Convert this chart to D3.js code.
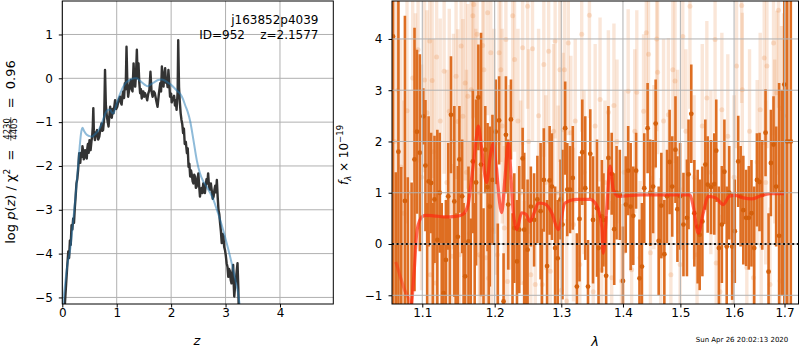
<!DOCTYPE html>
<html>
<head>
<meta charset="utf-8">
<script src="https://cdn.jsdelivr.net/npm/d3@7"></script>
<style>
body { margin: 0; background: #fff; }
svg { font-family: "DejaVu Sans", sans-serif; }
</style>
</head>
<body>
<svg id="fig" width="800" height="350"></svg>
<script>
// ---- left panel: log p(z) ----
const pzData = [
  [0.04,-5.4],[0.05,-5.1],[0.07,-4.7],[0.09,-4.3],[0.11,-3.95],[0.125,-4.1],[0.14,-3.7],[0.155,-3.8],
  [0.17,-3.35],[0.185,-3.45],[0.20,-3.2],[0.215,-3.3],[0.23,-2.96],[0.245,-2.7],[0.26,-2.4],[0.275,-2.3],
  [0.29,-2.1],[0.30,-1.9],[0.31,-1.71],[0.32,-1.85],[0.33,-1.93],[0.345,-1.7],[0.36,-1.79],[0.37,-1.55],
  [0.38,-1.63],[0.395,-1.85],[0.41,-1.8],[0.42,-1.64],[0.435,-1.72],[0.45,-1.83],[0.46,-1.6],[0.47,-1.5],
  [0.485,-1.7],[0.50,-1.41],[0.51,-1.55],[0.52,-1.64],[0.535,-1.45],[0.55,-1.3],[0.56,-1.1],[0.57,-0.68],
  [0.58,-1.2],[0.60,-1.41],[0.62,-1.25],[0.64,-1.18],[0.66,-1.4],[0.68,-1.33],[0.70,-1.15],[0.72,-1.03],
  [0.735,-1.2],[0.75,-1.18],[0.77,-0.9],[0.785,0.19],[0.80,-0.6],[0.82,-0.88],[0.835,-1.0],[0.85,-1.10],
  [0.865,-0.85],[0.88,-0.65],[0.895,-0.85],[0.91,-0.9],[0.925,-0.7],[0.94,-0.80],[0.955,-0.65],[0.97,-0.50],
  [0.99,-0.7],[1.01,-0.65],[1.035,-0.5],[1.06,-0.42],[1.075,-0.55],[1.09,-0.6],[1.105,-0.4],[1.12,-0.3],
  [1.135,-0.45],[1.15,-0.11],[1.165,-0.25],[1.18,0.72],[1.195,-0.1],[1.21,-0.42],[1.235,-0.2],[1.26,-0.04],
  [1.275,-0.25],[1.29,-0.3],[1.31,0.34],[1.325,-0.1],[1.34,-0.19],[1.355,0.1],[1.37,0.65],[1.385,0.0],
  [1.40,0.34],[1.415,-0.1],[1.43,-0.34],[1.445,-0.25],[1.46,-0.46],[1.475,-0.3],[1.49,-0.3],[1.505,-0.42],
  [1.52,-0.34],[1.54,-0.4],[1.56,-0.5],[1.58,-0.35],[1.60,-0.27],[1.62,0.15],[1.64,-0.3],[1.66,-0.42],
  [1.68,-0.3],[1.70,-0.34],[1.725,-0.5],[1.75,-0.65],[1.775,-0.35],[1.80,-0.11],[1.815,-0.3],[1.83,0.27],
  [1.845,-0.05],[1.86,-0.19],[1.875,0.1],[1.89,0.23],[1.905,-0.1],[1.92,-0.04],[1.935,-0.2],[1.95,0.19],
  [1.965,-0.1],[1.98,-0.42],[2.0,-0.35],[2.01,-0.55],[2.025,-0.45],[2.04,-0.5],[2.055,-0.4],[2.07,-0.62],
  [2.085,-0.5],[2.10,-0.72],[2.12,-0.3],[2.13,0.87],[2.145,-0.2],[2.16,-0.55],[2.175,-0.8],[2.19,-0.95],
  [2.205,-1.05],[2.22,-1.25],[2.235,-1.15],[2.25,-1.5],[2.27,-1.45],[2.29,-1.71],[2.305,-1.6],[2.32,-2.02],
  [2.335,-1.95],[2.35,-2.24],[2.365,-2.1],[2.38,-2.2],[2.395,-2.35],[2.41,-2.40],[2.425,-2.2],[2.44,-2.25],
  [2.455,-2.5],[2.47,-2.47],[2.485,-2.3],[2.50,-2.17],[2.515,-2.45],[2.53,-2.70],[2.545,-2.55],[2.56,-2.5],
  [2.575,-2.62],[2.59,-2.40],[2.605,-2.5],[2.62,-2.62],[2.635,-2.45],[2.65,-2.3],[2.665,-2.4],[2.68,-2.17],
  [2.695,-2.45],[2.71,-2.54],[2.73,-2.4],[2.75,-2.6],[2.765,-2.75],[2.78,-2.70],[2.795,-2.55],[2.81,-2.45],
  [2.825,-2.6],[2.84,-2.32],[2.855,-2.7],[2.87,-3.0],[2.885,-3.1],[2.90,-3.31],[2.915,-3.5],[2.93,-3.76],
  [2.945,-3.55],[2.96,-3.6],[2.975,-3.85],[2.99,-3.92],[3.005,-4.05],[3.02,-4.22],[3.035,-4.3],[3.05,-4.53],
  [3.065,-4.35],[3.08,-4.4],[3.095,-4.6],[3.11,-4.68],[3.125,-4.45],[3.14,-4.26],[3.15,-4.7],[3.16,-4.98],
  [3.175,-4.75],[3.19,-4.6],[3.205,-4.4],[3.22,-4.22],[3.235,-4.8],[3.24,-5.15],[3.25,-5.4]
];
const pzFit = [
  [0.0,-5.5],[0.02,-5.1],[0.06,-4.6],[0.10,-4.2],[0.14,-3.95],[0.18,-3.5],[0.22,-3.0],[0.26,-2.45],
  [0.29,-2.0],[0.32,-1.55],[0.345,-1.25],[0.37,-1.13],[0.40,-1.2],[0.45,-1.29],[0.50,-1.32],[0.54,-1.33],
  [0.58,-1.3],[0.63,-1.24],[0.68,-1.15],[0.72,-1.05],[0.76,-0.9],[0.80,-0.78],[0.84,-0.72],[0.88,-0.72],
  [0.91,-0.78],[0.94,-0.80],[0.98,-0.66],[1.03,-0.46],[1.08,-0.3],[1.12,-0.19],[1.17,-0.1],[1.21,-0.06],
  [1.27,-0.02],[1.33,0.0],[1.37,0.0],[1.42,-0.05],[1.47,-0.1],[1.52,-0.15],[1.56,-0.18],[1.60,-0.16],
  [1.65,-0.12],[1.70,-0.08],[1.76,-0.04],[1.82,-0.03],[1.88,-0.05],[1.94,-0.1],[2.00,-0.15],[2.06,-0.22],
  [2.12,-0.3],[2.17,-0.36],[2.22,-0.48],[2.26,-0.62],[2.30,-0.75],[2.35,-0.98],[2.41,-1.41],[2.47,-1.86],
  [2.53,-2.17],[2.59,-2.35],[2.65,-2.47],[2.72,-2.62],[2.78,-2.78],[2.84,-3.0],[2.90,-3.23],[2.96,-3.48],
  [3.02,-3.76],[3.08,-4.05],[3.14,-4.37],[3.19,-4.65],[3.24,-4.98],[3.27,-5.3]
];
const zTicks = [0, 1, 2, 3, 4];
const pzTicks = [-5, -4, -3, -2, -1, 0, 1];

// ---- right panel: spectrum [lambda, flux, err] ----
const specPts = [
  [1.0620,4.05,5.4],[1.0655,-1.6,3.0],[1.0689,1.8,3.6],[1.0725,-2.0,3.5],[1.0773,0.84,3.61],[1.0810,-1.5,2.8],
  [1.0860,-2.0,3.2],[1.0898,1.65,2.57],[1.0930,2.19,1.6],[1.0968,1.78,1.92],[1.1014,2.49,0.55],[1.1042,1.53,1.28],
  [1.1065,-1.8,2.6],[1.1084,1.22,1.27],[1.1117,1.19,0.98],[1.1140,-2.2,3.0],[1.1163,0.87,1.24],[1.1201,0.08,2.15],
  [1.1233,1.0,1.17],[1.1260,-1.6,2.4],[1.1285,-0.96,1.5],[1.1317,-0.31,1.17],[1.1349,0.93,1.04],[1.1370,-2.5,3.0],
  [1.1386,2.52,1.14],[1.1432,0.83,1.86],[1.1450,-1.9,2.5],[1.1480,0.14,1.38],[1.1502,1.65,1.04],[1.1540,0.93,1.11],
  [1.1560,-2.0,2.8],[1.1582,-0.63,1.24],[1.1628,0.05,1.46],[1.1660,-1.7,2.2],[1.1689,1.61,1.4],[1.1715,-1.8,2.6],
  [1.1735,1.2,1.62],[1.1767,2.86,1.03],[1.1805,1.55,2.57],[1.1840,-2.1,2.8],[1.1865,1.84,0.85],[1.1898,1.11,1.25],
  [1.1915,-1.5,2.3],[1.1930,0.73,1.56],[1.1968,1.25,1.27],[1.2015,2.19,1.02],[1.2045,-1.6,2.0],[1.2064,2.41,0.86],
  [1.2129,-1.12,0.94],[1.2163,2.13,1.14],[1.2197,0.77,1.27],[1.2237,2.43,0.78],[1.2260,-1.8,2.4],[1.2286,0.31,1.07],
  [1.2326,-0.34,1.2],[1.2360,0.28,1.24],[1.2410,1.67,0.6],[1.2434,0.28,1.5],[1.2460,-1.5,2.0],[1.2484,-0.11,1.37],
  [1.2533,0.73,0.78],[1.2582,0.47,0.91],[1.2632,0.87,0.85],[1.2681,0.64,1.33],[1.2700,-1.7,2.0],[1.2730,1.25,1.01],
  [1.2780,-0.43,1.29],[1.2819,1.24,1.06],[1.2855,1.12,1.04],[1.2904,-0.08,1.2],[1.2944,-0.28,1.14],[1.2988,0.87,0.78],
  [1.3019,0.38,1.46],[1.3061,2.26,0.91],[1.3094,1.06,0.91],[1.3138,1.06,0.85],[1.3181,1.29,1.01],[1.3246,-0.83,1.04],
  [1.3288,0.49,1.22],[1.3332,1.79,1.03],[1.3380,1.09,1.4],[1.3424,-0.83,0.91],[1.3461,1.76,0.87],[1.3505,0.47,1.24],
  [1.3570,0.70,1.34],[1.3595,-0.08,1.2],[1.3650,0.54,1.1],[1.3676,0.47,0.91],[1.3720,-0.62,1.16],[1.3757,1.68,1.01],
  [1.3812,1.37,0.8],[1.3854,0.29,1.09],[1.3893,1.0,0.91],[1.3947,0.96,0.88],[1.4000,-0.72,1.06],[1.4047,0.77,0.94],
  [1.4088,1.43,0.87],[1.4130,0.73,1.24],[1.4175,0.55,0.96],[1.4223,1.43,0.74],[1.4281,-0.67,1.15],[1.4323,-0.44,1.24],
  [1.4363,1.09,1.07],[1.4421,2.26,0.88],[1.4468,1.0,1.04],[1.4516,1.12,0.91],[1.4561,2.35,0.86],[1.4614,0.06,1.06],
  [1.4661,0.75,1.03],[1.4714,-0.2,1.06],[1.4761,0.93,0.91],[1.4807,1.6,1.02],[1.4854,1.12,0.98],[1.4912,1.84,1.04],
  [1.4947,0.68,1.03],[1.4995,0.93,1.04],[1.5056,0.38,1.01],[1.5119,0.51,1.14],[1.5148,1.36,1.07],[1.5198,2.54,0.96],
  [1.5254,0.6,1.04],[1.5315,0.34,1.11],[1.5352,0.18,1.08],[1.5402,0.44,1.07],[1.5457,1.55,0.88],[1.5500,1.16,0.94],
  [1.5563,1.11,0.92],[1.5624,1.17,0.99],[1.5661,1.82,1.0],[1.5711,-0.08,1.2],[1.5767,0.38,1.14],[1.5815,1.41,1.02],
  [1.5859,-0.05,1.17],[1.5907,1.0,0.91],[1.5963,-0.05,1.04],[1.6014,0.25,1.01],[1.6080,1.61,0.89],[1.6127,0.93,0.98],
  [1.6179,0.66,1.06],[1.6233,0.51,0.94],[1.6286,0.51,1.01],[1.6338,0.6,1.04],[1.6392,-0.08,1.2],[1.6446,1.25,0.91],
  [1.6497,1.21,0.96],[1.6551,0.96,1.07],[1.6617,2.17,0.85],[1.6677,-0.54,1.14],[1.6724,1.58,1.04],[1.6777,1.94,0.94],
  [1.6830,1.12,1.17],[1.6890,0.16,2.98],[1.6944,1.0,2.0],[1.6996,3.11,5.0],[1.7056,2.0,5.0],[1.7129,2.0,5.0]
];
const specPtsFaint = [
  [1.0640,2.0,3.0],[1.0759,0.60,2.2],[1.0874,3.24,2.0],[1.0944,3.79,2.2],[1.1061,2.56,2.0],[1.1098,3.96,2.2],
  [1.1107,-0.60,1.8],[1.1131,3.19,1.9],[1.1177,-0.76,1.8],[1.1191,3.65,2.0],[1.1293,3.37,2.0],[1.1363,2.59,2.0],
  [1.1400,-0.24,1.8],[1.1456,3.27,2.0],[1.1480,2.39,1.8],[1.1502,-0.21,1.7],[1.1526,3.86,2.0],[1.1550,2.49,1.9],
  [1.1582,3.14,1.9],[1.1619,2.88,1.8],[1.1642,0.21,1.8],[1.1665,3.01,1.8],[1.1689,4.45,2.0],[1.1703,4.67,2.2],
  [1.1749,4.09,2.0],[1.1781,-0.21,1.7],[1.1805,-0.24,1.6],[1.1828,3.87,1.9],[1.1845,3.40,1.8],[1.1875,-0.27,1.7],
  [1.1898,4.51,2.0],[1.1910,-0.67,1.7],[1.1944,3.73,1.8],[1.1960,0.28,1.6],[1.2040,-0.21,1.7],[1.2064,3.73,1.8],
  [1.2089,3.40,1.8],[1.2139,0.31,1.6],[1.2163,3.99,1.8],[1.2188,-0.73,1.6],[1.2262,4.45,2.0],[1.2290,3.6,1.8],
  [1.2410,3.83,1.9],[1.2434,-0.76,1.6],[1.2484,4.64,2.0],[1.2533,-0.60,1.6],[1.2558,3.81,1.8],[1.2600,-0.79,1.6],
  [1.2705,-0.79,1.6],[1.2730,3.50,1.8],[1.2804,3.76,1.8],[1.2829,-0.53,1.6],[1.2904,3.96,1.9],[1.2978,3.40,1.8],
  [1.3000,-0.90,1.6],[1.3029,2.23,1.5],[1.3050,3.40,1.7],[1.3084,-1.11,1.6],[1.3110,3.92,1.8],[1.3150,2.17,1.5],
  [1.3191,0.38,1.5],[1.3292,-0.40,1.5],[1.3323,4.09,1.9],[1.3447,4.46,2.0],[1.3508,-0.93,1.5],[1.3620,2.82,1.6],
  [1.3647,-0.50,1.5],[1.3757,2.57,1.6],[1.3812,-0.66,1.5],[1.3849,2.70,1.6],[1.3975,-0.72,1.5],[1.4088,2.98,1.6],
  [1.4147,-0.50,1.5],[1.4235,2.96,1.6],[1.4291,-0.27,1.5],[1.4351,2.59,1.5],[1.4398,4.12,1.8],[1.4437,3.70,1.7],
  [1.4470,-0.17,1.5],[1.4579,4.00,1.8],[1.4595,3.35,1.6],[1.4649,-0.21,1.5],[1.4785,2.52,1.5],[1.4830,-0.60,1.5],
  [1.4865,3.40,1.6],[1.4904,3.18,1.6],[1.4995,-0.40,1.5],[1.5044,4.05,1.8],[1.5174,4.64,2.0],[1.5304,-0.21,1.5],
  [1.5485,2.85,1.5],[1.5639,3.99,1.8],[1.5660,-0.37,1.5],[1.5734,-0.93,1.5],[1.5767,2.62,1.5],[1.5982,-0.53,1.5],
  [1.6048,3.47,1.6],[1.6147,4.65,1.9],[1.6159,3.01,1.5],[1.6247,-0.46,1.5],[1.6377,-0.66,1.5],[1.6510,2.62,1.5],
  [1.6530,-0.03,1.4],[1.6590,3.63,1.7],[1.6644,3.47,1.6],[1.6706,-0.79,1.5],[1.6777,3.92,1.8],[1.6843,2.95,1.6],
  [1.6877,4.56,1.9],[1.6908,-0.72,1.5],[1.6937,2.65,1.6],
  // faint points whose markers sit behind the solid bars
  [1.0680,3.0,2.0],[1.0720,1.5,2.5],[1.0800,2.6,2.2],[1.0830,1.0,2.0],[1.0910,2.2,2.3],[1.0990,1.3,2.2],
  [1.1030,3.2,1.8],[1.1150,1.8,2.2],[1.1240,2.4,2.0],[1.1330,1.2,2.2],[1.1420,2.0,2.1],[1.1600,1.4,2.0],
  [1.1730,2.0,2.2],[1.1790,1.0,2.0],[1.1990,2.2,2.0],[1.2020,1.2,1.8],[1.2110,2.3,1.9],[1.2220,1.3,1.8],
  [1.2340,2.4,1.8],[1.2380,1.0,1.8],[1.2500,2.0,1.8],[1.2650,2.5,1.7],[1.2760,1.2,1.7],[1.2880,2.2,1.7],
  [1.2950,1.0,1.7],[1.3220,2.4,1.6],[1.3360,1.4,1.6],[1.3540,2.3,1.6],[1.3700,1.2,1.6],[1.3900,2.0,1.6],
  [1.4020,1.4,1.6],[1.4200,2.2,1.6],[1.4530,1.5,1.6],[1.4700,2.4,1.6],[1.4950,1.8,1.6],[1.5100,2.2,1.6],
  [1.5250,1.3,1.6],[1.5400,2.3,1.6],[1.5560,1.4,1.6],[1.5880,2.1,1.6],[1.6000,1.3,1.6],[1.6300,2.2,1.6],
  [1.6450,1.6,1.6],[1.6620,1.2,1.6],[1.6800,2.0,1.6],[1.6980,2.5,2.0]
];
const modelMain = [
  [1.0850,-1.4],[1.0895,-0.5],[1.0926,0.2],[1.0947,0.38],[1.0980,0.5],[1.1040,0.56],[1.1150,0.55],[1.1300,0.53],
  [1.1450,0.54],[1.1550,0.58],[1.1620,0.75],[1.1665,1.2],[1.1725,1.9],[1.1766,2.3],[1.1810,1.9],[1.1885,1.2],
  [1.1935,1.7],[1.1980,1.96],[1.2015,1.6],[1.2101,0.61],[1.2150,1.3],[1.2198,1.97],[1.2272,0.61],[1.2322,0.28],
  [1.2396,0.61],[1.2460,0.58],[1.2520,0.44],[1.2580,0.6],[1.2646,0.80],[1.2749,0.78],[1.2851,0.61],[1.2954,0.28],
  [1.3058,0.80],[1.3242,0.87],[1.3457,0.87],[1.3565,0.75],[1.3647,0.34],[1.3673,-0.18],[1.3729,0.67],[1.3784,1.52],
  [1.3839,1.06],[1.3922,0.93],[1.4291,0.96],[1.4873,0.96],[1.5174,0.96],[1.5235,0.73],[1.5327,0.21],[1.5419,0.61],
  [1.5513,0.93],[1.5650,0.9],[1.5795,0.77],[1.5907,0.93],[1.6014,0.95],[1.6179,0.9],[1.6344,0.88],[1.6497,0.93],
  [1.6706,0.98],[1.7010,0.98]
];
const modelEdge = [[1.0655,-0.35],[1.0667,-0.40],[1.0709,-0.62],[1.0770,-0.9],[1.0839,-1.15],[1.0870,-1.4]];
const lamTicks = [1.1, 1.2, 1.3, 1.4, 1.5, 1.6, 1.7];
const fluxTicks = [-1, 0, 1, 2, 3, 4];

const svg = d3.select('#fig');
const L = {x0: 62.3, x1: 333.3, y0: 1, y1: 304};
const R = {x0: 392, x1: 798.5, y0: 1, y1: 304};

const xz = d3.scaleLinear().domain([0, 4.98]).range([L.x0, L.x1]);
const yp = d3.scaleLinear().domain([-5.15, 1.764]).range([L.y1, L.y0]);
const xl = d3.scaleLog().domain([1.0607, 1.7288]).range([R.x0, R.x1]);
const yf = d3.scaleLinear().domain([-1.17, 4.74]).range([R.y1, R.y0]);

const defs = svg.append('defs');
[['clipL', L], ['clipR', R]].forEach(([id, b]) => {
  defs.append('clipPath').attr('id', id).append('rect')
    .attr('x', b.x0).attr('y', b.y0).attr('width', b.x1 - b.x0).attr('height', b.y1 - b.y0);
});

function drawGrid(xs, ys, xt, yt, b){
  let g = svg.append('g').attr('stroke', '#b0b0b0').attr('stroke-width', 1);
  g.selectAll('.gx').data(xt).enter().append('line')
    .attr('x1', d => xs(d)).attr('x2', d => xs(d)).attr('y1', b.y0).attr('y2', b.y1);
  g.selectAll('.gy').data(yt).enter().append('line')
    .attr('y1', d => ys(d)).attr('y2', d => ys(d)).attr('x1', b.x0).attr('x2', b.x1);
}

function styleAxis(g){
  g.select('.domain').remove();
  g.selectAll('.tick line').attr('stroke', '#000').attr('stroke-width', 1);
  g.selectAll('.tick text').attr('fill', '#000');
  g.attr('font-size', 12).attr('font-family', '"DejaVu Sans", sans-serif');
}

// ---- left panel ----
drawGrid(xz, yp, zTicks, pzTicks, L);

let gL = svg.append('g').attr('clip-path', 'url(#clipL)');
let pzLine = d3.line().x(d => xz(d[0])).y(d => yp(d[1]));
gL.append('path').datum(pzData).attr('d', pzLine)
  .attr('fill', 'none').attr('stroke', '#333').attr('stroke-width', 2.4).attr('stroke-linejoin', 'round');
gL.append('path').datum(pzFit).attr('d', pzLine.curve(d3.curveMonotoneX))
  .attr('fill', 'none').attr('stroke', '#1f77b4').attr('stroke-opacity', 0.5).attr('stroke-width', 2);

svg.append('g').attr('transform', `translate(0,${L.y1})`)
  .call(d3.axisBottom(xz).tickValues(zTicks).tickSize(3.5).tickPadding(1).tickFormat(d3.format('d')))
  .call(styleAxis);
svg.append('g').attr('transform', `translate(${L.x0},0)`)
  .call(d3.axisLeft(yp).tickValues(pzTicks).tickSize(3.5).tickPadding(6).tickFormat(d3.format('d')))
  .call(styleAxis);

// ---- right panel ----
let gR = svg.append('g').attr('clip-path', 'url(#clipR)');
gR.selectAll('.fbar').data(specPtsFaint).enter().append('line')
  .attr('x1', d => xl(d[0])).attr('x2', d => xl(d[0]))
  .attr('y1', d => yf(d[1] - d[2])).attr('y2', d => yf(d[1] + d[2]))
  .attr('stroke', '#e8843a').attr('stroke-opacity', 0.2).attr('stroke-width', 3.4);
gR.selectAll('.fdot').data(specPtsFaint).enter().append('circle')
  .attr('cx', d => xl(d[0])).attr('cy', d => yf(d[1])).attr('r', 2.5)
  .attr('fill', '#e8843a').attr('fill-opacity', 0.22);
gR.selectAll('.sbar').data(specPts).enter().append('line')
  .attr('x1', d => xl(d[0])).attr('x2', d => xl(d[0]))
  .attr('y1', d => yf(d[1] - d[2])).attr('y2', d => yf(d[1] + d[2]))
  .attr('stroke', '#de6e22').attr('stroke-width', 2.6);
gR.selectAll('.sdot').data(specPts).enter().append('circle')
  .attr('cx', d => xl(d[0])).attr('cy', d => yf(d[1])).attr('r', 2.4)
  .attr('fill', '#d4600c');

let modelLine = d3.line().x(d => xl(d[0])).y(d => yf(d[1])).curve(d3.curveMonotoneX);
gR.append('path').datum(modelEdge).attr('d', modelLine)
  .attr('fill', 'none').attr('stroke', '#ff2a10').attr('stroke-opacity', 0.45).attr('stroke-width', 3.2);
gR.append('path').datum(modelMain).attr('d', modelLine)
  .attr('fill', 'none').attr('stroke', '#ff2a10').attr('stroke-opacity', 0.7).attr('stroke-width', 3.2);

drawGrid(xl, yf, lamTicks, fluxTicks, R);

svg.append('line').attr('x1', R.x0).attr('x2', R.x1).attr('y1', yf(0)).attr('y2', yf(0))
  .attr('stroke', '#111').attr('stroke-width', 2).attr('stroke-dasharray', '2,2.6');

svg.append('g').attr('transform', `translate(0,${R.y1})`)
  .call(d3.axisBottom(xl).tickValues(lamTicks).tickSize(3.5).tickPadding(1).tickFormat(d3.format('.1f')))
  .call(styleAxis);
svg.append('g').attr('transform', `translate(${R.x0},0)`)
  .call(d3.axisLeft(yf).tickValues(fluxTicks).tickSize(3.5).tickPadding(6).tickFormat(d3.format('d')))
  .call(styleAxis);

// frames
[L, R].forEach(b => {
  svg.append('rect').attr('x', b.x0).attr('y', b.y0).attr('width', b.x1 - b.x0).attr('height', b.y1 - b.y0)
    .attr('fill', 'none').attr('stroke', '#000').attr('stroke-width', 1);
});

// ---- texts ----
svg.append('text').attr('x', 318.5).attr('y', 24).attr('text-anchor', 'end').attr('font-size', 12)
  .text('j163852p4039');
svg.append('text').attr('x', 318.5).attr('y', 39).attr('text-anchor', 'end').attr('font-size', 12)
  .style('white-space', 'pre').text('ID=952    z=2.1577');

svg.append('text').attr('x', 197).attr('y', 345).attr('text-anchor', 'middle').attr('font-size', 13)
  .attr('font-style', 'italic').text('z');
svg.append('text').attr('x', 595).attr('y', 346).attr('text-anchor', 'middle').attr('font-size', 13)
  .attr('font-style', 'italic').text('λ');
svg.append('text').attr('x', 742).attr('y', 342).attr('text-anchor', 'middle').attr('font-size', 7)
  .text('Sun Apr 26 20:02:13 2020');

// left y label with stacked fraction
let yl = svg.append('g').attr('transform', 'translate(15,152) rotate(-90)').attr('font-size', 13);
let t1 = yl.append('text').style('white-space', 'pre');
t1.append('tspan').text('log ');
t1.append('tspan').attr('font-style', 'italic').text('p');
t1.append('tspan').text('(');
t1.append('tspan').attr('font-style', 'italic').text('z');
t1.append('tspan').text(') / χ');
t1.append('tspan').attr('font-size', 9).attr('dy', -5).text('2');
t1.append('tspan').attr('dy', 5).text('  =  ');
let num = yl.append('text').attr('font-size', 8.5).attr('y', -5.5).attr('text-anchor', 'middle').text('4230');
let den = yl.append('text').attr('font-size', 8.5).attr('y', 2).attr('text-anchor', 'middle').text('4405');
let t3 = yl.append('text').style('white-space', 'pre').text('  =  0.96');
let w1 = t1.node().getComputedTextLength();
let wf = Math.max(num.node().getComputedTextLength(), den.node().getComputedTextLength()) + 3;
let w3 = t3.node().getComputedTextLength();
let x0 = -(w1 + wf + w3) / 2;
t1.attr('x', x0);
num.attr('x', x0 + w1 + wf / 2);
den.attr('x', x0 + w1 + wf / 2);
yl.append('line').attr('x1', x0 + w1 + 0.5).attr('x2', x0 + w1 + wf - 0.5).attr('y1', -4.2).attr('y2', -4.2)
  .attr('stroke', '#000').attr('stroke-width', 0.6);
t3.attr('x', x0 + w1 + wf);

// right y label
let yr = svg.append('g').attr('transform', 'translate(348,155) rotate(-90)').attr('font-size', 12);
let t4 = yr.append('text').attr('text-anchor', 'middle').style('white-space', 'pre');
t4.append('tspan').attr('font-style', 'italic').text('f');
t4.append('tspan').attr('font-size', 8.5).attr('dy', 3).attr('font-style', 'italic').text('λ');
t4.append('tspan').attr('dy', -3).text(' × 10');
t4.append('tspan').attr('font-size', 8.5).attr('dy', -5).text('−19');
</script>
</body>
</html>
